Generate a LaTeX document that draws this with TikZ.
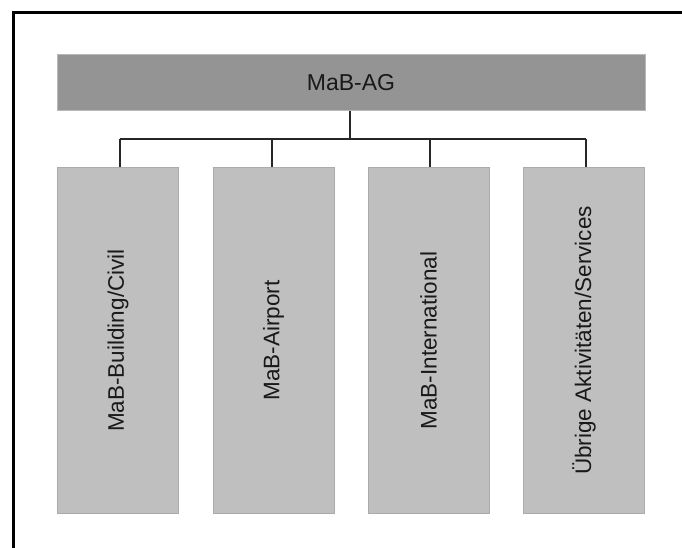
\documentclass[tikz,border=0pt]{standalone}
\usepackage{fontspec}
\setmainfont{Liberation Sans}
\begin{document}
\begin{tikzpicture}[x=1pt,y=-1pt,
  topbox/.style={draw=black!28,fill=black!42,line width=1pt,minimum width=588pt,minimum height=56pt,inner sep=0pt,font=\fontsize{23}{26}\selectfont},
  subbox/.style={draw=black!33,fill=black!25,line width=1pt,minimum width=121pt,minimum height=345pt,inner sep=0pt},
  subtext/.style={rotate=90,font=\fontsize{22.5}{26}\selectfont,inner sep=0pt,text=black!90},
  conn/.style={draw=black!85,line width=1.1pt}]
\useasboundingbox (0,0) rectangle (682,548);
\draw[line width=3pt] (13,548) -- (13,13) -- (682,13);
\node[topbox,text=black!90] (ag) at (351,83) {MaB-AG};
\node[subbox] (b1) at (118,340.5) {};
\node[subbox] (b2) at (273.5,340.5) {};
\node[subbox] (b3) at (428.5,340.5) {};
\node[subbox] (b4) at (584,340.5) {};
\node[subtext] (t1) at (b1.center) {MaB-Building/Civil};
\node[subtext] (t2) at (b2.center) {MaB-Airport};
\node[subtext] (t3) at (b3.center) {MaB-International};
\node[subtext] (t4) at (b4.center) {Übrige Aktivitäten/Services};
\coordinate (bus) at (350,139);
\coordinate (busL) at (120,139);
\coordinate (busR) at (586,139);
\draw[conn] (ag.south -| bus) -- (bus);
\draw[conn] (busL) -- (busR);
\draw[conn] (busL) -- (busL |- b1.north);
\draw[conn] (272,139) -- (b2.north -| 272,0);
\draw[conn] (430,139) -- (b3.north -| 430,0);
\draw[conn] (busR) -- (busR |- b4.north);
\end{tikzpicture}
\end{document}
